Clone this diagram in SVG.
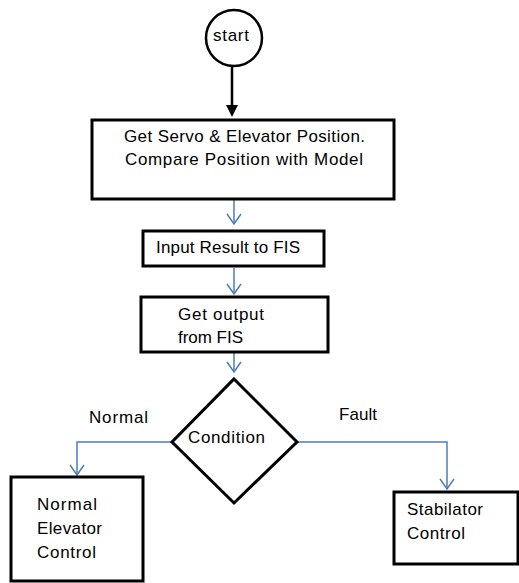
<svg xmlns="http://www.w3.org/2000/svg" width="519" height="583" viewBox="0 0 519 583">
  <style>
    .box { fill: #ffffff; stroke: #000000; stroke-width: 3; }
    .term { fill: #ffffff; stroke: #000000; stroke-width: 2.5; }
    .lbl { font-family: "Liberation Sans", Arial, sans-serif; font-size: 17px; fill: #000000; }
    .flow { fill: none; stroke: #4a7ebb; stroke-width: 1.5; }
    .main { fill: none; stroke: #000000; stroke-width: 2.5; }
  </style>

  <g id="connectors">
    <path class="main" d="M232 66 V108"/>
    <path d="M226 105 L238 105 L232 117 Z" fill="#000000"/>
    <path class="flow" d="M234 200 V224"/>
    <path class="flow" d="M234 268 V294"/>
    <path class="flow" d="M234 353 V372"/>
    <path class="flow" d="M172 442 H77 V475"/>
    <path class="flow" d="M297 442 H447 V489"/>
    <path class="flow" d="M227 214 L234 224 L241 214"/>
    <path class="flow" d="M227 284 L234 294 L241 284"/>
    <path class="flow" d="M227 362 L234 372 L241 362"/>
    <path class="flow" d="M70 465 L77 475 L84 465"/>
    <path class="flow" d="M440 479 L447 489 L454 479"/>
  </g>

  <g id="start">
    <circle class="term" cx="234" cy="38" r="28"/>
    <text class="lbl" x="231" y="41" text-anchor="middle" textLength="36">start</text>
  </g>

  <g id="get-position">
    <rect class="box" x="92" y="120" width="302" height="79"/>
    <text class="lbl" x="124" y="142" textLength="241">Get Servo &amp; Elevator Position.</text>
    <text class="lbl" x="125" y="165" textLength="238">Compare Position with Model</text>
  </g>

  <g id="input-fis">
    <rect class="box" x="143" y="231" width="181" height="35"/>
    <text class="lbl" x="156" y="253" textLength="144">Input Result to FIS</text>
  </g>

  <g id="output-fis">
    <rect class="box" x="141" y="297" width="187" height="55"/>
    <text class="lbl" x="178" y="320" textLength="86">Get output</text>
    <text class="lbl" x="178" y="343" textLength="65">from FIS</text>
  </g>

  <g id="condition">
    <polygon points="234,379 297,442 234,503 172,442" fill="#ffffff" stroke="#000000" stroke-width="3"/>
    <text class="lbl" x="188" y="443" textLength="77">Condition</text>
  </g>

  <g id="edge-labels">
    <text class="lbl" x="89" y="423" textLength="59">Normal</text>
    <text class="lbl" x="339" y="420" textLength="38">Fault</text>
  </g>

  <g id="normal-control">
    <rect class="box" x="11" y="477" width="132" height="104"/>
    <text class="lbl" x="37" y="510" textLength="60">Normal</text>
    <text class="lbl" x="37" y="534" textLength="65">Elevator</text>
    <text class="lbl" x="37" y="558" textLength="59">Control</text>
  </g>

  <g id="stabilator-control">
    <rect class="box" x="394" y="492" width="124" height="72"/>
    <text class="lbl" x="407" y="515" textLength="76">Stabilator</text>
    <text class="lbl" x="407" y="539" textLength="58">Control</text>
  </g>
</svg>
